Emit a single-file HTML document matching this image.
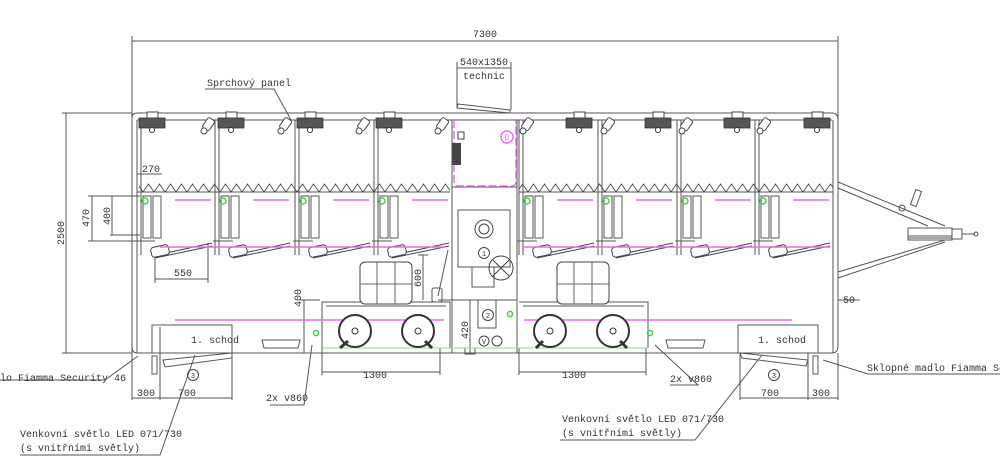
<!DOCTYPE html>
<html><head><meta charset="utf-8"><style>
html,body{margin:0;padding:0;background:#fff;}
svg{display:block;font-family:"Liberation Mono","DejaVu Sans Mono",monospace;}
</style></head><body>
<svg width="1000" height="457" viewBox="0 0 1000 457" xmlns="http://www.w3.org/2000/svg">
<defs>
<pattern id="zz" x="0" y="183" width="11" height="10" patternUnits="userSpaceOnUse">
<path d="M0 9 L5.5 1 L11 9" fill="none" stroke="#444" stroke-width="0.9"/>
</pattern>
<g id="head"><rect x="0" y="0" width="26" height="10" fill="#555" stroke="#333" stroke-width="0.8"/><rect x="8" y="-6" width="11" height="6" fill="#fff" stroke="#444"/><circle cx="13" cy="12" r="2.5" fill="#fff" stroke="#333"/></g>
<g id="sp"><rect x="-4" y="-7" width="8" height="12" rx="2" transform="rotate(35)" fill="#fff" stroke="#444"/><circle cx="-4" cy="6" r="3" fill="#fff" stroke="#444"/></g>
<g id="stall">
<line x1="0" y1="120" x2="0" y2="255" stroke="#555"/><line x1="4" y1="120" x2="4" y2="255" stroke="#555"/>
<rect x="6" y="196" width="8" height="42" fill="none" stroke="#555"/><rect x="16" y="196" width="8" height="42" fill="none" stroke="#555"/>
<circle cx="8" cy="201" r="3" fill="none" stroke="#4c4" stroke-width="1.4"/>
<line x1="38" y1="200" x2="74" y2="200" stroke="#e6e" stroke-width="1.5"/>
<path d="M20 255 L75 243" stroke="#444" fill="none"/><path d="M18 258 L75 246" stroke="#444" fill="none"/>
<rect x="14" y="246" width="18" height="10" rx="3" fill="#fff" stroke="#444" transform="rotate(-12 23 251)"/>
<line x1="-2" y1="241" x2="18" y2="241" stroke="#555"/>
</g>
<g id="toilet"><rect x="0" y="0" width="52" height="42" rx="5" fill="#fff" stroke="#444"/><line x1="17" y1="0" x2="17" y2="42" stroke="#666"/><line x1="35" y1="0" x2="35" y2="42" stroke="#666"/><line x1="0" y1="22" x2="52" y2="22" stroke="#666"/></g>
<g id="wheel"><circle r="16" fill="#fff" stroke="#333" stroke-width="2"/><circle r="3" fill="#fff" stroke="#333"/></g>
</defs>
<g stroke="#555" stroke-width="1" fill="none">
<!-- top dim 7300 -->
<line x1="132" y1="41" x2="838" y2="41"/>
<line x1="132" y1="36" x2="132" y2="355"/><line x1="838" y1="36" x2="838" y2="300"/>
<!-- body -->
<path d="M137 113 L832 113 Q838 113 838 120 L838 346 Q838 353 832 353 L137 353 Q132 353 132 346 L132 118 Q132 113 137 113"/>
<line x1="137" y1="120" x2="832" y2="120"/>
<line x1="137" y1="120" x2="137" y2="353"/><line x1="833" y1="120" x2="833" y2="353"/>
<line x1="137" y1="192" x2="450" y2="192"/><line x1="519" y1="192" x2="833" y2="192"/>
<line x1="137" y1="187" x2="450" y2="187" stroke="none"/>
<!-- left dims -->
<line x1="62" y1="113" x2="132" y2="113"/><line x1="66" y1="113" x2="66" y2="353"/><line x1="62" y1="353" x2="132" y2="353"/>
<line x1="88" y1="196" x2="140" y2="196"/><line x1="88" y1="241" x2="140" y2="241"/>
<line x1="92" y1="196" x2="92" y2="241"/><line x1="112" y1="196" x2="112" y2="235"/><line x1="110" y1="235" x2="140" y2="235"/>
<line x1="137" y1="174" x2="162" y2="174"/>
<line x1="155" y1="250" x2="155" y2="283"/><line x1="208" y1="243" x2="208" y2="283"/><line x1="155" y1="279" x2="208" y2="279"/>
<!-- center module -->
<rect x="452" y="120" width="65" height="233"/>
<line x1="452" y1="187" x2="517" y2="187"/>
<rect x="458" y="210" width="52" height="57"/>
<rect x="472" y="267" width="22" height="20"/>
<rect x="478" y="300" width="18" height="28"/>
<line x1="438" y1="300" x2="517" y2="300"/>
<line x1="470" y1="300" x2="470" y2="353"/>
<rect x="465" y="348" width="10" height="6"/>
<line x1="423" y1="255" x2="423" y2="300"/><line x1="418" y1="255" x2="428" y2="255"/>
<line x1="448" y1="250" x2="438" y2="296"/>
<rect x="432" y="288" width="10" height="14" rx="2"/>
<!-- technic -->
<line x1="457" y1="68" x2="511" y2="68"/><line x1="457" y1="62" x2="457" y2="107"/><line x1="511" y1="62" x2="511" y2="110"/>
<path d="M458 104 L510 110 L510 113 L457 108 Z"/>
<!-- lower bay -->
<path d="M322 302 L450 302 L450 348 L322 348 Z"/><path d="M326 306 L446 306"/>
<path d="M519 302 L648 302 L648 348"/><path d="M523 306 L644 306"/>
<line x1="322" y1="302" x2="322" y2="375"/><line x1="440" y1="348" x2="440" y2="375"/><line x1="322" y1="372" x2="440" y2="372"/>
<line x1="519" y1="348" x2="519" y2="375"/><line x1="646" y1="348" x2="646" y2="375"/><line x1="519" y1="372" x2="646" y2="372"/>
<line x1="300" y1="300" x2="320" y2="300"/><line x1="304" y1="300" x2="304" y2="353"/>
<!-- steps -->
<rect x="152" y="325" width="80" height="28"/><line x1="160" y1="327" x2="160" y2="400"/><line x1="232" y1="353" x2="232" y2="400"/><line x1="132" y1="353" x2="132" y2="400"/>
<line x1="132" y1="398" x2="232" y2="398"/>
<path d="M163 360 L232 353 L232 358 L165 367 Z"/>
<rect x="152" y="356" width="5" height="18"/>
<rect x="738" y="325" width="80" height="28"/><line x1="740" y1="353" x2="740" y2="400"/><line x1="808" y1="353" x2="808" y2="400"/><line x1="838" y1="353" x2="838" y2="400"/>
<line x1="740" y1="398" x2="838" y2="398"/>
<path d="M740 353 L808 360 L806 366 L742 358 Z"/>
<rect x="813" y="356" width="5" height="18"/>
<path d="M262 340 L300 340 L298 348 L264 348 Z"/><path d="M666 340 L705 340 L703 348 L668 348 Z"/>
<!-- drawbar -->
<line x1="838" y1="182" x2="945" y2="226"/><line x1="838" y1="188" x2="928" y2="226"/>
<line x1="838" y1="272" x2="945" y2="240"/><line x1="838" y1="278" x2="945" y2="242"/>
<rect x="908" y="228" width="44" height="10"/><rect x="908" y="236" width="44" height="4"/>
<path d="M952 229 L962 229 L962 239 L952 239"/><line x1="962" y1="234" x2="975" y2="234"/><circle cx="976" cy="234" r="2"/>
<rect x="913" y="190" width="6" height="16" transform="rotate(20 916 198)"/><circle cx="902" cy="208" r="3"/>
<line x1="838" y1="300" x2="860" y2="300"/><line x1="833" y1="300" x2="833" y2="305"/>
<!-- leaders -->
<polyline points="205,89 274,89 291,120"/>
<polyline points="0,380 105,380 138,356"/>
<polyline points="20,455 160,455 195,355"/>
<polyline points="270,405 304,405 312,345"/>
<polyline points="670,385 698,385 655,345"/>
<polyline points="560,440 695,440 762,355"/>
<polyline points="1000,374 868,374 823,360"/>
</g>
<!-- stalls -->
<use href="#stall" x="137"/><use href="#stall" x="215"/><use href="#stall" x="295"/><use href="#stall" x="374"/>
<use href="#stall" x="519"/><use href="#stall" x="598"/><use href="#stall" x="677"/><use href="#stall" x="755"/>
<line x1="833" y1="120" x2="833" y2="255" stroke="#555"/>
<rect x="139" y="183" width="311" height="9" fill="url(#zz)"/>
<rect x="519" y="183" width="314" height="9" fill="url(#zz)"/>
<!-- heads & sprayers -->
<g><use href="#head" x="139" y="118"/><use href="#head" x="218" y="118"/><use href="#head" x="297" y="118"/><use href="#head" x="376" y="118"/>
<use href="#head" x="566" y="118"/><use href="#head" x="645" y="118"/><use href="#head" x="724" y="118"/><use href="#head" x="804" y="118"/>
<use href="#sp" x="208" y="125"/><use href="#sp" x="285" y="125"/><use href="#sp" x="363" y="125"/><use href="#sp" x="442" y="125"/>
<use href="#sp" x="527" y="125"/><use href="#sp" x="608" y="125"/><use href="#sp" x="686" y="125"/><use href="#sp" x="764" y="125"/></g>
<!-- magenta -->
<g stroke="#e6e" stroke-width="1.4" fill="none">
<line x1="160" y1="247" x2="445" y2="247"/><line x1="524" y1="247" x2="830" y2="247"/>
<line x1="175" y1="320" x2="444" y2="320"/><line x1="524" y1="320" x2="792" y2="320"/>
<path d="M454 120 L454 182 Q454 186 458 186 L512 186 Q516 186 516 182 L516 120" stroke-dasharray="8 3"/>
<circle cx="507" cy="137" r="6"/>
</g>
<text x="507" y="140" font-size="8" fill="#e6e" text-anchor="middle">D</text>
<rect x="452" y="143" width="9" height="22" fill="#444"/><rect x="458" y="132" width="6" height="7" fill="none" stroke="#444"/>
<line x1="322" y1="348" x2="648" y2="348" stroke="#8d8" stroke-width="1"/>
<g fill="none" stroke="#4c4" stroke-width="1.4"><circle cx="316" cy="333" r="2.6"/><circle cx="510" cy="314" r="2.6"/><circle cx="650" cy="333" r="2.6"/></g>
<!-- toilets, wheels -->
<use href="#toilet" x="360" y="262"/><use href="#toilet" x="557" y="262"/>
<use href="#wheel" x="355" y="331"/><use href="#wheel" x="418" y="331"/><use href="#wheel" x="550" y="331"/><use href="#wheel" x="613" y="331"/>
<g stroke="#333" stroke-width="3"><line x1="348" y1="341" x2="340" y2="348"/><line x1="425" y1="341" x2="432" y2="348"/><line x1="543" y1="341" x2="536" y2="348"/><line x1="620" y1="341" x2="627" y2="348"/></g>
<g fill="none" stroke="#444"><circle cx="484" cy="229" r="9"/><circle cx="484" cy="229" r="5"/><circle cx="484" cy="253" r="5.5"/>
<circle cx="501" cy="268" r="12"/><path d="M493 260 L509 276 M509 260 L493 276"/>
<circle cx="488" cy="315" r="5.5"/><circle cx="484" cy="341" r="5"/><circle cx="497" cy="341" r="5"/>
<circle cx="193" cy="375" r="5.5"/><circle cx="774" cy="375" r="5.5"/></g>
<!-- text -->
<g fill="#333" font-size="10">
<text x="485" y="37" text-anchor="middle">7300</text>
<text x="484" y="65" text-anchor="middle">540x1350</text>
<text x="484" y="79" text-anchor="middle">technic</text>
<text x="207" y="86">Sprchový panel</text>
<text x="142" y="172">270</text>
<text x="174" y="276">550</text>
<text x="191" y="343">1. schod</text><text x="758" y="343">1. schod</text>
<text x="363" y="378">1300</text><text x="562" y="378">1300</text>
<text x="137" y="396">300</text><text x="178" y="396">700</text>
<text x="761" y="396">700</text><text x="812" y="396">300</text>
<text x="266" y="401">2x v860</text><text x="670" y="382">2x v860</text>
<text x="0" y="381">lo Fiamma Security 46</text>
<text x="867" y="371">Sklopné madlo Fiamma Secur</text>
<text x="20" y="437">Venkovní světlo LED 071/730</text><text x="20" y="451">(s vnitřními světly)</text>
<text x="562" y="422">Venkovní světlo LED 071/730</text><text x="562" y="436">(s vnitřními světly)</text>
<text x="843" y="303">50</text>
<g font-size="7" text-anchor="middle"><text x="484" y="256">1</text><text x="488" y="318">2</text><text x="484" y="344">V</text><text x="193" y="378">3</text><text x="774" y="378">3</text></g>
<text transform="translate(64 233) rotate(-90)" text-anchor="middle">2500</text>
<text transform="translate(89 218) rotate(-90)" text-anchor="middle">470</text>
<text transform="translate(110 216) rotate(-90)" text-anchor="middle">400</text>
<text transform="translate(421 278) rotate(-90)" text-anchor="middle">600</text>
<text transform="translate(301 298) rotate(-90)" text-anchor="middle">400</text>
<text transform="translate(468 330) rotate(-90)" text-anchor="middle">420</text>
</g>
</svg>
</body></html>
